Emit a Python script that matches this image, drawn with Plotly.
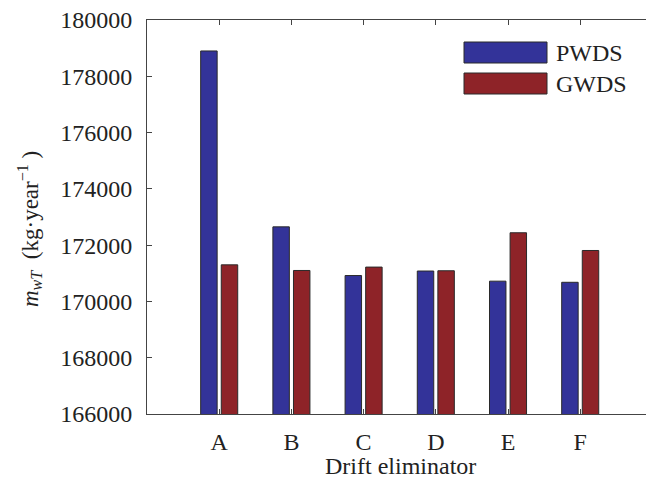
import plotly.graph_objects as go

categories = ["A", "B", "C", "D", "E", "F"]
series_names = ["PWDS", "GWDS"]
pwds = [178900, 172650, 170920, 171080, 170720, 170680]
gwds = [171300, 171100, 171220, 171090, 172440, 171810]
colors = ["#333399", "#8E2328"]

FONT = "Liberation Serif"
W, H = 646, 483
L, T, B, R = 147, 20, 69, 0
pw, ph = W - L - R, H - T - B

fig = go.Figure()
xs = list(range(1, len(categories) + 1))
for name, vals, col in zip(series_names, [pwds, gwds], colors):
    fig.add_trace(go.Bar(x=xs, y=vals, name=name, marker=dict(color=col, line=dict(color="#2a2a2a", width=1)),
                         showlegend=False))

def px2paper_x(px):
    return (px - L) / pw

def px2paper_y(py):
    return (H - B - py) / ph

# legend drawn manually (large swatches)
legend_rows = [(42, 63), (73, 94)]
for (y0, y1), name, col in zip(legend_rows, series_names, colors):
    fig.add_shape(type="rect", xref="paper", yref="paper",
                  x0=px2paper_x(464), x1=px2paper_x(547), y0=px2paper_y(y1), y1=px2paper_y(y0),
                  fillcolor=col, line=dict(color="#2a2a2a", width=1))
    fig.add_annotation(xref="paper", yref="paper", x=px2paper_x(554), y=px2paper_y((y0 + y1) / 2),
                       text=name, showarrow=False, xanchor="left", yanchor="middle",
                       font=dict(family=FONT, size=24, color="#222"))

fig.add_annotation(xref="paper", yref="paper", x=px2paper_x(29), y=px2paper_y(229),
                   text="<i>m</i><sub><i>wT</i></sub>  (kg·year<sup>−1</sup> )", textangle=-90,
                   showarrow=False, xanchor="center", yanchor="middle",
                   font=dict(family=FONT, size=23, color="#222"))
fig.add_annotation(xref="paper", yref="paper", x=px2paper_x(400), y=px2paper_y(466),
                   text="Drift eliminator", showarrow=False, xanchor="center", yanchor="middle",
                   font=dict(family=FONT, size=24, color="#222"))

fig.update_layout(
    width=W, height=H, margin=dict(l=L, r=R, t=T, b=B, pad=0),
    paper_bgcolor="white", plot_bgcolor="white",
    barmode="group", bargap=0.43, bargroupgap=0.2,
    font=dict(family=FONT, size=24, color="#222"),
    xaxis=dict(range=[0, 6.911], tickmode="array", tickvals=xs, ticktext=categories,
               showline=True, linecolor="#444", linewidth=1, mirror="ticks",
               ticks="inside", ticklen=5, tickcolor="#444", showgrid=False, zeroline=False,
               ticklabelstandoff=6, tickfont=dict(family=FONT, size=24, color="#222")),
    yaxis=dict(range=[166000, 180000], dtick=2000, tickformat="d",
               showline=True, linecolor="#444", linewidth=1, mirror=False,
               ticks="inside", ticklen=5, tickcolor="#444", showgrid=False, zeroline=False,
               ticklabelstandoff=9, tickfont=dict(family=FONT, size=24, color="#222")),
)
fig.write_html("out.html")
